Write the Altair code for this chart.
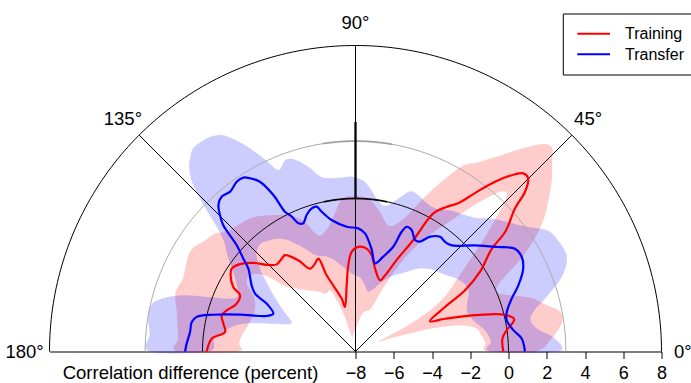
import altair as alt
import pandas as pd

# ---------------- data (angle in degrees, value = correlation difference in percent) -------------
red_theta = [0, 5, 8, 11.5, 13.8, 16.9, 20.1, 22.1, 26.4, 29.2, 32.6, 37, 38.6, 41.9, 43.3, 45.1,
             46.7, 48, 50.6, 53, 55.3, 58, 60.6, 62.6, 65.8, 68.8, 71, 76.7, 80.4, 83.8, 88.5, 92.2,
             94.8, 97.6, 103.3, 104.6, 110.7, 111.8, 114.8, 118.8, 122.1, 126.2, 128.5, 132.1, 135.7,
             139.1, 142.9, 146.2, 148.6, 152.2, 154, 158.1, 162.3, 164.9, 168.1, 171.5, 174.9, 180]
red_value = [-0.27, -0.29, -0.02, 0.47, 0.05, -1.47, -3.02, -3.8, -2.77, -1.44, -0.28, 0.92, 2.01,
             3.21, 4.18, 4.79, 4.8, 4.47, 3.49, 2.37, 1.43, 0.9, 0.29, -1.43, -2.75, -3.73, -4.06,
             -3.55, -2.9, -2.59, -2.53, -2.79, -3.48, -4.51, -5.61, -5.15, -3.74, -2.77, -2.94, -3.06,
             -2.37, -1.76, -1.8, -1.86, -1.51, -0.93, -0.43, -0.21, -0.35, -0.77, -1.28, -1.3, -0.93,
             -0.75, -0.94, -1.1, -0.45, -0.22]

blue_theta = [0, 4.4, 7.7, 11.7, 14.6, 18.7, 22.1, 26.3, 29.6, 32.8, 36.2, 41.6, 47.8, 50.7, 53.6,
              57, 59.6, 61.9, 65.2, 67.7, 68.9, 70.2, 73.7, 77.5, 80.9, 85.4, 88.7, 94, 100.3, 103.6,
              105, 107, 109.7, 112.2, 114, 115.3, 116.8, 117.7, 119.4, 121.3, 122.8, 125, 128.1, 130.8,
              133.1, 134.8, 136.3, 138.2, 140.4, 142.3, 147.5, 150.1, 151.7, 155.3, 158.2, 162.3, 165.5,
              167.7, 169.8, 173.3, 177.4, 180]
blue_value = [0.86, 0.72, 0.33, 0.07, 0.17, 0.62, 1.19, 1.78, 2.0, 1.92, 1.25, 0.36, -0.51, -0.6,
              -0.55, -0.84, -1.34, -1.39, -1.0, -0.95, -1.29, -2.18, -2.83, -3.28, -2.62, -1.8, -1.56,
              -1.46, -1.01, -0.48, -0.16, -0.17, -0.42, -0.76, -0.66, -0.2, 0.19, 1.24, 2.19, 2.6, 2.82,
              2.83, 2.62, 2.7, 2.49, 2.06, 1.57, 0.33, -0.39, -0.92, -1.56, -1.94, -2.73, -3.27, -3.0,
              -1.66, -0.32, 0.5, 0.7, 0.71, 0.84, 0.91]

red_band_theta = [0, 4, 8, 11, 14, 17, 20, 23, 26, 29, 32, 35, 38, 41, 44, 46, 48, 51, 54, 57, 60,
                  63, 66, 70, 75, 80, 85, 90, 95, 100, 104, 108, 112, 117, 122, 127, 132, 137, 140,
                  144, 148, 152, 157, 162, 167, 172, 176, 180]
red_band_lo = [-1.1, -1.2, -1.4, -1.6, -2.4, -4.0, -5.8, -6.7, -5.2, -3.5, -2.4, -1.6, -0.6, 0.8,
               2.4, 3.4, 3.2, 1.8, 0.4, -0.6, -1.6, -2.8, -4.2, -5.6, -5.8, -6.0, -6.5, -6.8, -7.0,
               -7.2, -7.2, -5.8, -4.6, -4.6, -4.3, -4.0, -3.6, -3.0, -1.8, -1.2, -1.3, -2.0, -2.3,
               -2.3, -2.2, -2.0, -1.9, -1.8]
red_band_hi = [1.4, 2.3, 2.9, 2.9, 2.2, 1.6, 0.6, 0.0, 0.5, 1.8, 3.0, 4.0, 4.8, 5.6, 6.3, 6.8, 6.6,
               5.6, 4.6, 3.8, 3.2, 2.0, 0.8, -0.6, -1.2, -0.6, 0.0, 0.1, 0.0, -1.0, -1.5, -1.6, -0.6,
               0.0, 0.4, 0.8, 1.0, 1.2, 1.6, 1.8, 2.1, 2.0, 1.8, 1.9, 1.6, 1.4, 1.3, 1.3]

blue_band_theta = [0, 4, 7, 10, 13, 16, 20, 24, 28, 32, 36, 40, 44, 48, 52, 56, 60, 64, 68, 71, 74,
                   78, 81, 84, 87, 91, 96, 101, 104, 107, 110, 113, 115, 117.5, 120, 122, 125, 128.6,
                   130.5, 132, 134, 136, 138, 140, 143, 146, 150, 155, 158, 162, 166, 170, 175, 180]
blue_band_lo = [-0.9, -0.9, -1.0, -1.2, -1.5, -1.7, -1.8, -1.6, -1.3, -1.3, -1.5, -1.8, -2.0, -2.2,
                -2.5, -2.9, -3.3, -3.6, -4.0, -4.3, -4.6, -4.8, -4.6, -4.3, -4.1, -4.0, -3.7, -3.3,
                -3.0, -2.8, -2.7, -2.5, -2.2, -1.8, -1.4, -1.1, -0.8, -0.6, -0.5, -0.5, -0.6, -0.8,
                -1.2, -1.6, -2.3, -2.9, -3.6, -4.3, -4.2, -3.3, -2.0, -1.2, -0.6, -0.3]
blue_band_hi = [2.6, 2.4, 1.6, 1.3, 1.6, 2.4, 3.5, 4.1, 4.1, 3.9, 3.1, 2.5, 2.0, 1.4, 1.1, 0.9, 0.6,
                0.6, 0.8, 0.86, 0.37, -0.2, -0.1, 0.4, 0.9, 1.14, 1.12, 1.3, 1.9, 2.45, 2.67, 2.3,
                3.0, 4.0, 4.85, 5.35, 5.6, 5.6, 5.3, 5.0, 4.3, 3.05, 1.8, 1.0, 0.4, -0.2, -0.8, -1.2,
                -0.6, 1.5, 2.8, 3.0, 2.8, 2.75]

tick_values = [-8, -6, -4, -2, 0, 2, 4, 6, 8]
ring_values = [0, 3, 8]          # circles drawn at these values
ring_colors = ["black", "#aaaaaa", "black"]
# darker, heavier stretches of the two inner circles near the top (value, from angle, to angle)
ring_heavy = [(0, 78, 102, "black"), (3, 80, 99, "#999999")]
spoke_angles = [45, 90, 135]
label_angles = [0, 45, 90, 135, 180]
label_texts = ["0°", "45°", "90°", "135°", "180°"]
series_names = ["Training", "Transfer"]
series_colors = ["#ff0000", "#0000ff"]

FONT = "Liberation Sans"

# ---------------- tables ----------------
lines_df = pd.concat([
    pd.DataFrame({"t": red_theta, "v": red_value, "series": series_names[0], "i": range(len(red_theta))}),
    pd.DataFrame({"t": blue_theta, "v": blue_value, "series": series_names[1], "i": range(len(blue_theta))}),
])


def band_df(theta, lo, hi):
    t = list(theta) + list(reversed(theta))
    v = list(hi) + list(reversed(lo))
    return pd.DataFrame({"t": t, "v": v, "i": range(len(t))})


red_band = band_df(red_band_theta, red_band_lo, red_band_hi)
blue_band = band_df(blue_band_theta, blue_band_lo, blue_band_hi)

ring_df = pd.DataFrame([{"t": a, "v": rv, "col": c, "ring": k, "i": a}
                        for k, (rv, c) in enumerate(zip(ring_values, ring_colors))
                        for a in range(0, 181)])
heavy_df = pd.DataFrame([{"t": a, "v": rv, "col": c, "ring": k, "i": a}
                         for k, (rv, a0, a1, c) in enumerate(ring_heavy)
                         for a in range(a0, a1 + 1)])
spoke_df = pd.DataFrame({"t": spoke_angles})
label_df = pd.DataFrame({"t": label_angles, "text": label_texts})

X_CALC = "(datum.v + 8) * cos(datum.t * PI / 180)"
Y_CALC = "(datum.v + 8) * sin(datum.t * PI / 180)"

xscale = alt.Scale(domain=[-16, 16], nice=False, zero=False)
yscale = alt.Scale(domain=[0, 16], nice=False, zero=False)
xaxis = alt.Axis(values=[tv + 8 for tv in tick_values],
                 labelExpr="replace(format(datum.value - 8, 'd'), '-', '\u2212')",
                 domainColor="black", domainWidth=1, tickColor="black", tickWidth=1, tickSize=7,
                 labelFontSize=18, labelFont=FONT, labelColor="black", labelBaseline="alphabetic",
                 labelPadding=20, labelFlush=False, labelOverlap=False, grid=False,
                 title="Correlation difference (percent)", titleFont=FONT, titleFontSize=18.5,
                 titleFontWeight="normal", titleColor="black", titleX=140.5, titleY=27,
                 titleAlign="center", titleBaseline="alphabetic")
X = alt.X("x:Q", scale=xscale, axis=xaxis)
Y = alt.Y("y:Q", scale=yscale, axis=None)


def polar(ch):
    return ch.transform_calculate(x=X_CALC, y=Y_CALC)


red_band_layer = polar(alt.Chart(red_band)).mark_line(
    interpolate="cardinal-closed", fill=series_colors[0], fillOpacity=0.2, strokeOpacity=0, strokeWidth=0
).encode(x=X, y=Y, order=alt.Order("i:Q"))

blue_band_layer = polar(alt.Chart(blue_band)).mark_line(
    interpolate="cardinal-closed", fill=series_colors[1], fillOpacity=0.2, strokeOpacity=0, strokeWidth=0
).encode(x=X, y=Y, order=alt.Order("i:Q"))

rings = polar(alt.Chart(ring_df)).mark_line(strokeWidth=1).encode(
    x=X, y=Y, detail="ring:N", stroke=alt.Stroke("col:N", scale=None), order=alt.Order("i:Q"))

heavy = polar(alt.Chart(heavy_df)).mark_line(strokeWidth=1.8, opacity=0.8).encode(
    x=X, y=Y, detail="ring:N", stroke=alt.Stroke("col:N", scale=None), order=alt.Order("i:Q"))

spokes = alt.Chart(spoke_df).transform_calculate(
    x0="0", y0="0", x1="16 * cos(datum.t * PI / 180)", y1="16 * sin(datum.t * PI / 180)"
).mark_rule(color="black", strokeWidth=1).encode(
    x=alt.X("x0:Q", scale=xscale, axis=xaxis), y=alt.Y("y0:Q", scale=yscale, axis=None),
    x2="x1:Q", y2="y1:Q")

thick = alt.Chart(pd.DataFrame({"t": [90], "v0": [0.0], "v1": [4.0]})).transform_calculate(
    x0="0", y0="datum.v0 + 8", y1="datum.v1 + 8"
).mark_rule(color="black", strokeWidth=2.5, opacity=0.85).encode(
    x=alt.X("x0:Q", scale=xscale, axis=xaxis), y=alt.Y("y0:Q", scale=yscale, axis=None), y2="y1:Q")

lines = polar(alt.Chart(lines_df)).mark_line(interpolate="catmull-rom", strokeWidth=2.2).encode(
    x=X, y=Y, order=alt.Order("i:Q"),
    color=alt.Color("series:N", scale=alt.Scale(domain=series_names, range=series_colors), legend=None))

top_labels = alt.Chart(label_df).transform_filter("datum.t > 0 && datum.t < 180").transform_calculate(
    x="17.2 * cos(datum.t * PI / 180)", y="17.2 * sin(datum.t * PI / 180)"
).mark_text(font=FONT, fontSize=18.5, align="center", baseline="middle", color="black").encode(
    x=X, y=Y, text="text:N")

right_label = alt.Chart(label_df).transform_filter("datum.t == 0").transform_calculate(
    x="16.65", y="0"
).mark_text(font=FONT, fontSize=18.5, align="left", baseline="middle", color="black").encode(
    x=X, y=Y, text="text:N")

left_label = alt.Chart(label_df).transform_filter("datum.t == 180").transform_calculate(
    x="-16.3", y="0"
).mark_text(font=FONT, fontSize=18.5, align="right", baseline="middle", color="black").encode(
    x=X, y=Y, text="text:N")

# ---------------- legend (box, line keys, labels), placed in the top-right corner ----------------
one = pd.DataFrame({"k": [0]})
legend_box = alt.Chart(one).mark_rect(fill="white", stroke="black", strokeWidth=1).encode(
    x=alt.value(513.8), x2=alt.value(660), y=alt.value(-31.5), y2=alt.value(29.5))
legend_layers = [legend_box]
for row, (name, col) in enumerate(zip(series_names, series_colors)):
    ypos = -11.8 + row * 20.6
    legend_layers.append(alt.Chart(one).mark_rule(color=col, strokeWidth=2).encode(
        x=alt.value(527.8), x2=alt.value(560.5), y=alt.value(ypos)))
    legend_layers.append(alt.Chart(pd.DataFrame({"name": [name]})).mark_text(
        font=FONT, fontSize=16, align="left", baseline="middle", color="black").encode(
        x=alt.value(575.5), y=alt.value(ypos + 0.5), text="name:N"))

chart = alt.layer(
    red_band_layer, blue_band_layer, rings, heavy, spokes, thick, lines, top_labels, right_label,
    left_label, *legend_layers
).properties(
    width=612, height=306,
    padding={"left": 49.5, "top": 45.5, "right": 29.5, "bottom": 31.5},
    autosize=alt.AutoSizeParams(type="none"),
).configure(font=FONT, background="white").configure_view(stroke=None)

chart.save("out.html", embed_options={"renderer": "svg", "actions": False})
